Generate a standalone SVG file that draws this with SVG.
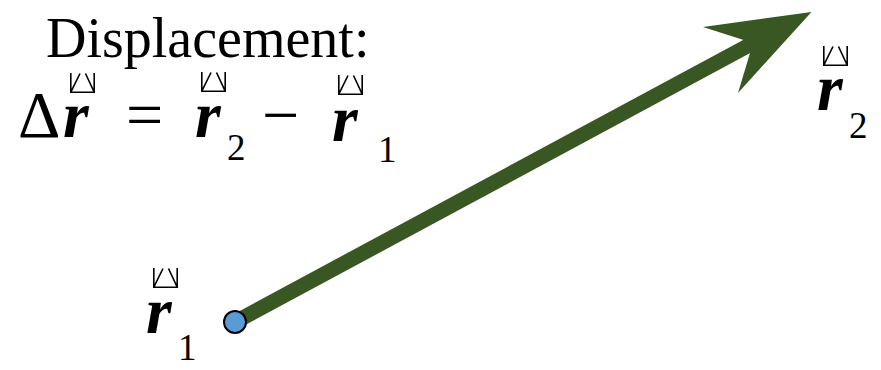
<svg xmlns="http://www.w3.org/2000/svg" width="881" height="370" viewBox="0 0 881 370">
<style>
text{font-family:'Liberation Serif','Times New Roman',serif;fill:#000}
.v{font-style:italic;font-weight:bold;font-size:66px}
.big{font-size:66px}
.sub{font-size:37px}
.acc{fill:none;stroke:#000;stroke-width:1.6}
</style>
<defs>
<path id="accent" class="acc" d="M0.8,0 V19.2 H24.2 V0 M0.8,19.2 L10,0.5 M15.5,0.5 L24.2,19.2"/>
</defs>
<rect width="881" height="370" fill="#fff"/>
<g id="title">
<text x="46" y="57" font-size="56">Displacement:</text>
</g>
<g id="equation">
<text class="big" x="18" y="137" font-size="68">Δ</text>
<text class="v" x="63" y="137">r</text>
<use href="#accent" x="70" y="73"/>
<text class="big" x="126" y="137">=</text>
<text class="v" x="195" y="137">r</text>
<use href="#accent" x="201" y="72"/>
<text class="sub" x="227" y="160">2</text>
<text class="big" x="262" y="137">−</text>
<text class="v" x="332" y="141">r</text>
<use href="#accent" x="338" y="75"/>
<text class="sub" x="378" y="162">1</text>
</g>
<g id="connectors">
<line x1="235" y1="322" x2="755" y2="42" stroke="#385723" stroke-width="15"/>
<polygon points="811.5,12 703,27 753,43 738,93" fill="#385723"/>
</g>
<g id="label-r2">
<text class="v" x="817" y="110">r</text>
<use href="#accent" x="823" y="46"/>
<text class="sub" x="849" y="138">2</text>
</g>
<g id="label-r1">
<text class="v" x="146" y="333">r</text>
<use href="#accent" x="153" y="268"/>
<text class="sub" x="178" y="360">1</text>
</g>
<g id="point-r1">
<circle cx="235" cy="322" r="11" fill="#5B9BD5" stroke="#000" stroke-width="2"/>
</g>
</svg>
